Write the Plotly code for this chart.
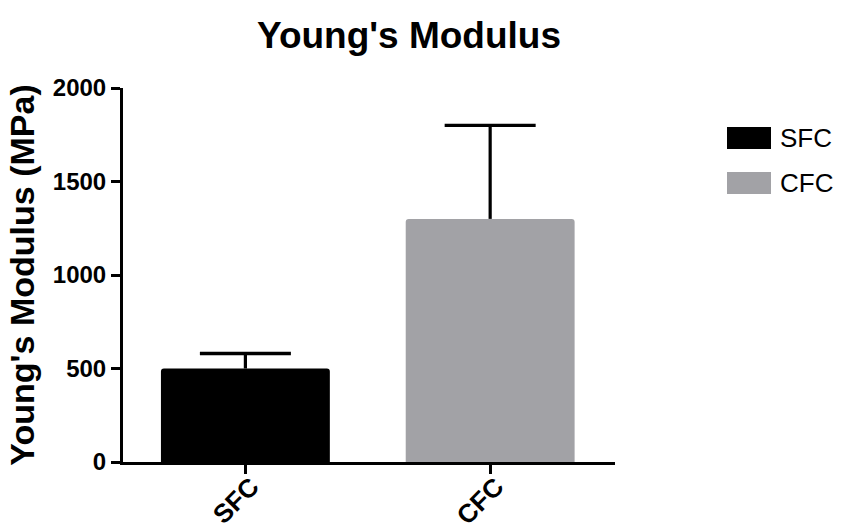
import plotly.graph_objects as go

# Young's modulus of the two fibre composites (mean and upper SD)
categories = ["SFC", "CFC"]
modulus_mpa = [500, 1300]
err_upper = [80, 500]
bar_colors = ["#000000", "#a2a2a6"]
y_ticks = [0, 500, 1000, 1500, 2000]

FONT = "Liberation Sans, Arial, sans-serif"
W, H = 856, 529
L, R, T, B = 123, 241, 88, 67
PW, PH = W - L - R, H - T - B

fig = go.Figure()
for cat, val, col in zip(categories, modulus_mpa, bar_colors):
    fig.add_trace(go.Bar(
        x=[cat], y=[val], name=cat,
        marker=dict(color=col, line=dict(width=0), cornerradius=3),
        width=0.69, showlegend=False,
    ))

# one-sided (upward) error bars: stem from the bar top plus a cap
for cat, val, err in zip(categories, modulus_mpa, err_upper):
    fig.add_trace(go.Scatter(
        x=[cat, cat], y=[val, val + err], mode="lines",
        line=dict(color="black", width=3.2), showlegend=False, hoverinfo="skip",
    ))
    fig.add_trace(go.Scatter(
        x=[cat], y=[val + err], mode="markers",
        marker=dict(symbol="line-ew", size=65, line=dict(color="black", width=3.4)),
        showlegend=False, hoverinfo="skip",
    ))


def px_x(x):
    return (x - L) / PW


def px_y(y):
    return 1 - (y - T) / PH


# legend: large rounded swatches with labels
for i, (cat, col) in enumerate(zip(categories, bar_colors)):
    yc = 138 + i * 45
    fig.add_shape(type="rect", xref="paper", yref="paper",
                  x0=px_x(727), x1=px_x(771), y0=px_y(yc + 11), y1=px_y(yc - 11),
                  fillcolor=col, line=dict(width=0), layer="above")
    fig.add_annotation(xref="paper", yref="paper", x=px_x(778), y=px_y(yc),
                       text=cat, showarrow=False, xanchor="left", yanchor="middle",
                       font=dict(family=FONT, size=26, color="black"))

fig.update_layout(
    width=W, height=H,
    margin=dict(l=L, r=R, t=T, b=B, autoexpand=False),
    paper_bgcolor="white", plot_bgcolor="white",
    title=dict(text="<b>Young's Modulus</b>", xref="container", x=409 / W, xanchor="center",
               yref="container", y=1 - 35 / H, yanchor="middle",
               font=dict(family=FONT, size=37, color="black")),
    font=dict(family=FONT, color="black"),
)
fig.update_xaxes(
    range=[-0.5, 1.51], showline=True, linecolor="black", linewidth=3,
    ticks="outside", ticklen=9, tickwidth=3, tickcolor="black",
    tickangle=-45, showgrid=False, zeroline=False, automargin=False,
    ticklabelstandoff=-13, ticklabelshift=6,
    tickfont=dict(family=FONT, size=26, color="black"),
    tickprefix="<b>", ticksuffix="</b>",
)
fig.update_yaxes(
    range=[0, 2000], tickvals=y_ticks, ticktext=[f"<b>{v}</b>" for v in y_ticks],
    showline=True, linecolor="black", linewidth=3,
    ticks="outside", ticklen=9, tickwidth=3, tickcolor="black",
    showgrid=False, zeroline=False, automargin=False,
    tickfont=dict(family=FONT, size=24, color="black"),
    title=dict(text="<b>Young's Modulus (MPa)</b>", standoff=8,
               font=dict(family=FONT, size=34, color="black")),
)

fig.write_html("out.html")
